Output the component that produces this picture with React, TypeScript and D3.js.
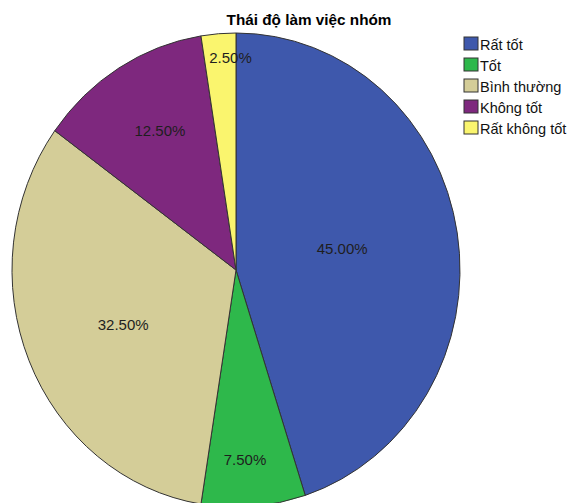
import React from "react";
import * as d3 from "d3";

const categories = ["Rất tốt", "Tốt", "Bình thường", "Không tốt", "Rất không tốt"];
const percents = [45.0, 7.5, 32.5, 12.5, 2.5];
const colors = ["#3E58AC", "#2EB84B", "#D4CD98", "#7E287E", "#FAF56E"];
const title = "Thái độ làm việc nhóm";

// layout
const W = 571;
const H = 503;
const cx = 236;
const cy = 270;
const rx = 224;
const ry = 237;
// label placement as fractions of the ellipse radii along the slice's mid angle
const labelFx = [0.48, 0.51, 0.545, 0.65, 0.31];
const labelFy = [0.57, 0.8, 0.6, 0.69, 0.9];

export default function App() {
  const pie = d3
    .pie<number>()
    .sort(null)
    .value((d) => d)
    .startAngle(0)
    .endAngle(2 * Math.PI);
  const arcs = pie(percents);
  const arc = d3.arc<d3.PieArcDatum<number>>().innerRadius(0).outerRadius(rx);
  const sy = ry / rx;

  return (
    <svg
      width={W}
      height={H}
      style={{ position: "absolute", left: 0, top: 0, display: "block" }}
      fontFamily="Liberation Sans, Arial, sans-serif"
    >
      <rect width={W} height={H} fill="#fff" />
      <g transform={`translate(${cx},${cy}) scale(1,${sy})`}>
        {arcs.map((a, i) => (
          <path
            key={i}
            d={arc(a) || ""}
            fill={colors[i]}
            stroke="#333"
            strokeWidth={1}
            vectorEffect="non-scaling-stroke"
          />
        ))}
      </g>
      {arcs.map((a, i) => {
        const mid = (a.startAngle + a.endAngle) / 2;
        const x = cx + Math.sin(mid) * rx * labelFx[i];
        const y = cy - Math.cos(mid) * ry * labelFy[i];
        return (
          <text
            key={i}
            x={x}
            y={y}
            textAnchor="middle"
            dominantBaseline="central"
            fontSize={15}
            fill="#1e1e1e"
          >
            {percents[i].toFixed(2) + "%"}
          </text>
        );
      })}
      <text x={309} y={25} textAnchor="middle" fontSize={15.3} fontWeight="bold" fill="#000">
        {title}
      </text>
      {categories.map((c, i) => (
        <g key={c} transform={`translate(464,${37 + i * 21})`}>
          <rect width={14} height={13} fill={colors[i]} stroke="#333" strokeWidth={1} />
          <text x={16} y={13} fontSize={14.5} fill="#111">
            {c}
          </text>
        </g>
      ))}
    </svg>
  );
}
